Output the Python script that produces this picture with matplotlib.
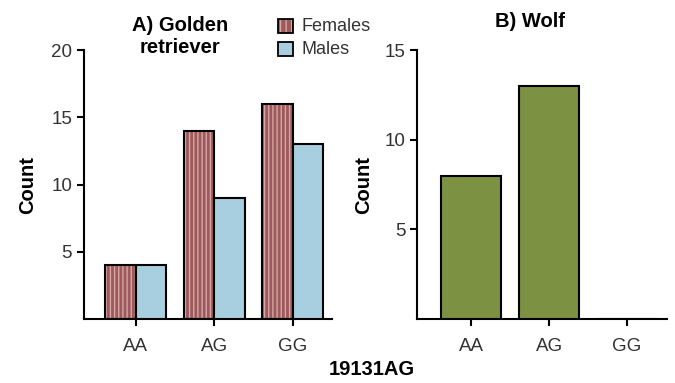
import numpy as np
import matplotlib
matplotlib.use("Agg")
import matplotlib.pyplot as plt
from matplotlib.patches import Rectangle

plt.rcParams['font.family'] = ['Liberation Sans', 'DejaVu Sans']

genotypes = ['AA', 'AG', 'GG']
golden_females = [4, 14, 16]
golden_males = [4, 9, 13]
wolf_counts = [8, 13, 0]

fem_color = '#9c5a5b'
fem_stripe = '#d9a5a6'
male_color = '#a8cfe0'
wolf_color = '#7d9142'

fig = plt.figure(figsize=(6.75, 3.83), dpi=100)
axA = fig.add_axes([0.1244, 0.167, 0.3675, 0.702])
axB = fig.add_axes([0.618, 0.167, 0.370, 0.702])

x = np.arange(len(genotypes))
w = 0.39

# females: hatched fill first, then black outline on top
axA.bar(x - w / 2, golden_females, w, color=fem_color, edgecolor=fem_stripe,
        hatch='||||', linewidth=0, zorder=2)
axA.bar(x - w / 2, golden_females, w, facecolor='none', edgecolor='black',
        linewidth=1.5, zorder=3)
axA.bar(x + w / 2, golden_males, w, color=male_color, edgecolor='black',
        linewidth=1.5, zorder=3)

axB.bar(x, wolf_counts, 0.78, color=wolf_color, edgecolor='black',
        linewidth=1.5, zorder=3)

for ax in (axA, axB):
    ax.spines['top'].set_visible(False)
    ax.spines['right'].set_visible(False)
    ax.spines['left'].set_linewidth(1.5)
    ax.spines['bottom'].set_linewidth(1.5)
    ax.set_xticks(x)
    ax.set_xticklabels(genotypes)
    ax.tick_params(axis='both', width=1.5, length=5, labelsize=13.5,
                   labelcolor='#333333')
    ax.tick_params(axis='x', pad=9)
    ax.set_ylabel('Count', fontsize=14.5, fontweight='bold')

axA.set_xlim(-0.66, 2.5)
axA.set_ylim(0, 20)
axA.set_yticks([5, 10, 15, 20])
axA.yaxis.labelpad = 10

axB.set_xlim(-0.69, 2.51)
axB.set_ylim(0, 15)
axB.set_yticks([5, 10, 15])
axB.yaxis.labelpad = 8

fig.text(0.267, 0.905, 'A) Golden\nretriever', ha='center', va='center',
         fontsize=14.5, fontweight='bold', linespacing=1.2)
fig.text(0.785, 0.943, 'B) Wolf', ha='center', va='center',
         fontsize=14.5, fontweight='bold')
fig.text(0.551, 0.034, '19131AG', ha='center', va='center',
         fontsize=14.5, fontweight='bold')

# legend drawn by hand to place the patches like the original
lx, ly = 0.412, 0.914
pw, ph = 0.022, 0.036
dy = 0.060
fig.patches.append(Rectangle((lx, ly), pw, ph, transform=fig.transFigure,
                             facecolor=fem_color, edgecolor=fem_stripe,
                             hatch='|||', linewidth=0))
fig.patches.append(Rectangle((lx, ly), pw, ph, transform=fig.transFigure,
                             facecolor='none', edgecolor='black', linewidth=1.3))
fig.patches.append(Rectangle((lx, ly - dy), pw, ph, transform=fig.transFigure,
                             facecolor=male_color, edgecolor='black', linewidth=1.3))
fig.text(lx + 0.035, ly + ph / 2, 'Females', va='center', fontsize=13,
         color='#333333')
fig.text(lx + 0.035, ly - dy + ph / 2, 'Males', va='center', fontsize=13,
         color='#333333')

fig.savefig('out.png', dpi=100)
